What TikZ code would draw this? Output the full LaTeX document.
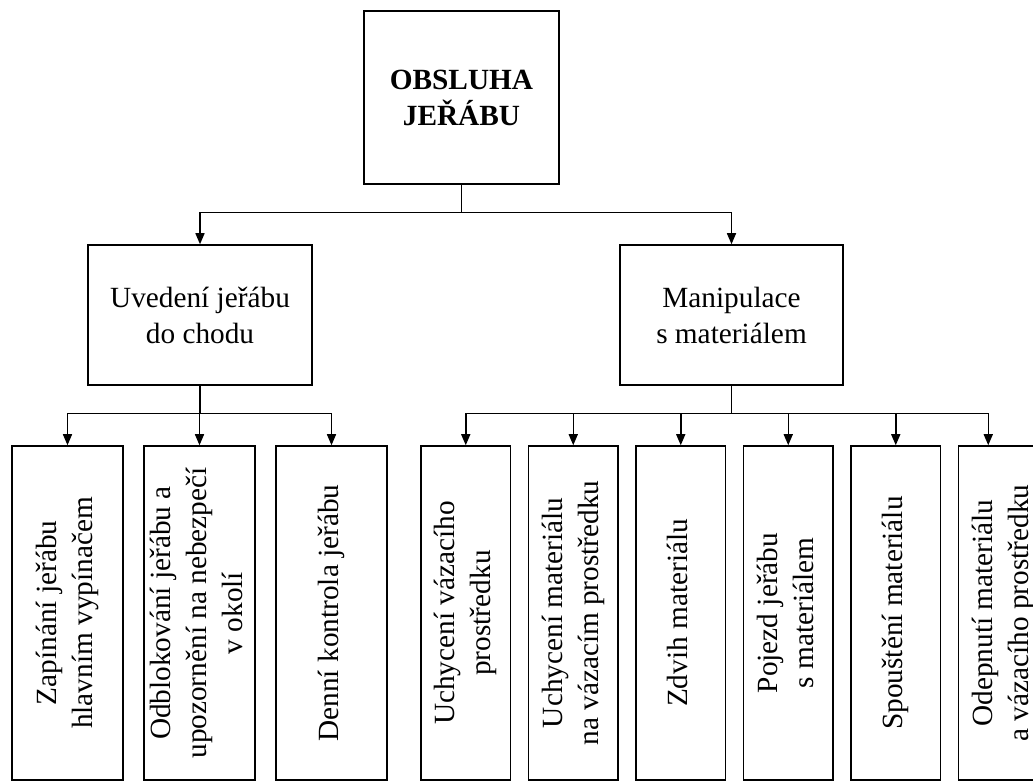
\documentclass[tikz,border=0pt]{standalone}
\usepackage{fontspec}
\setmainfont{Liberation Serif}
\usetikzlibrary{arrows.meta,positioning}

\newcommand{\vlabel}[1]{\rotatebox{90}{\begin{tabular}{@{}c@{}}#1\end{tabular}}}

\begin{document}
\begin{tikzpicture}[
    x=1pt, y=1pt,
    font=\fontsize{29.3}{36}\selectfont,
    box/.style={rectangle, draw, line width=1.5pt, align=center, inner sep=0pt},
    leaf/.style={box, minimum width=111pt, minimum height=334pt},
    task/.style={box, minimum width=89.5pt, minimum height=334pt},
    arrow/.style={-{Triangle[length=11pt,width=9pt]}, line width=1.5pt}
]
\useasboundingbox (0,0) rectangle (1033,781);

\node[box, minimum width=195pt, minimum height=173pt, font=\fontsize{29.3}{36}\selectfont\bfseries] (obsluha) at (461.5,683.5) {OBSLUHA\\JEŘÁBU};
\node[box, minimum width=224pt, minimum height=140pt] (uvedeni) at (200,466) {Uvedení jeřábu\\do chodu};
\node[box, minimum width=223pt, minimum height=140pt] (manipulace) at (731.5,466) {Manipulace\\s materiálem};

% uvedeni do chodu
\node[leaf] (zapinani) at (67.5,168) {\vlabel{Zapínání jeřábu\\hlavním vypínačem}};
\node[leaf, right=19.5pt of zapinani] (odblokovani) {\vlabel{Odblokování jeřábu a\\upozornění na nebezpečí\\v okolí}};
\node[leaf, right=19.5pt of odblokovani] (kontrola) {\vlabel{Denní kontrola jeřábu}};

% manipulace s materialem
\node[task] (uchyceni) at (465.75,168) {\vlabel{Uchycení vázacího\\prostředku}};
\node[task, right=16.5pt of uchyceni] (uchycenimat) {\vlabel{Uchycení materiálu\\na vázacím prostředku}};
\node[task, right=16.5pt of uchycenimat] (zdvih) {\vlabel{Zdvih materiálu}};
\node[task, right=16.5pt of zdvih] (pojezd) {\vlabel{Pojezd jeřábu\\s materiálem}};
\node[task, right=16.5pt of pojezd] (spousteni) {\vlabel{Spouštění materiálu}};
\node[task, right=16.5pt of spousteni] (odepnuti) {\vlabel{Odepnutí materiálu\\a vázacího prostředku}};

\draw[arrow] (obsluha.south) -- ++(0,-28) -| (uvedeni.north);
\draw[arrow] (obsluha.south) -- ++(0,-28) -| (manipulace.north);

\draw[arrow] (uvedeni.south) -- ++(0,-28) -| (zapinani.north);
\draw[arrow] (uvedeni.south) -- ++(0,-28) -| (odblokovani.north);
\draw[arrow] (uvedeni.south) -- ++(0,-28) -| (kontrola.north);

\draw[arrow] (manipulace.south) -- ++(0,-28) -| (uchyceni.north);
\draw[arrow] (manipulace.south) -- ++(0,-28) -| (uchycenimat.north);
\draw[arrow] (manipulace.south) -- ++(0,-28) -| (zdvih.north);
\draw[arrow] (manipulace.south) -- ++(0,-28) -| (pojezd.north);
\draw[arrow] (manipulace.south) -- ++(0,-28) -| (spousteni.north);
\draw[arrow] (manipulace.south) -- ++(0,-28) -| ([xshift=-15pt]odepnuti.north);
\end{tikzpicture}
\end{document}
